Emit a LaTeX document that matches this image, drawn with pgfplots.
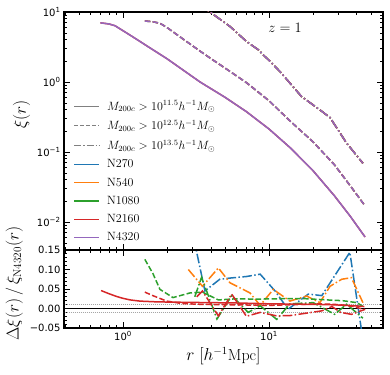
\documentclass[border=0pt]{standalone}
\usepackage{fontspec}
\usepackage{pgfplots}
\usepackage{pgfplotstable}
\pgfplotsset{compat=1.18}
\newfontfamily\tickfont{DejaVu Sans}
\definecolor{c0}{HTML}{1F77B4}
\definecolor{c1}{HTML}{FF7F0E}
\definecolor{c2}{HTML}{2CA02C}
\definecolor{c3}{HTML}{D62728}
\definecolor{c4}{HTML}{9467BD}
\definecolor{mgray}{HTML}{808080}

\pgfplotstableread{
r xi
0.70 7.00
0.80 6.75
0.88 6.37
1.00 5.40
1.20 4.25
1.50 3.15
2.00 2.15
2.50 1.55
3.37 1.00
5.00 0.604
7.00 0.377
10.0 0.213
14.0 0.1146
20.0 0.0542
28.0 0.0238
36.0 0.0121
45.5 0.0061
}\solid
\pgfplotstableread{
r xi
1.41 7.44
1.60 7.25
1.79 6.90
2.00 6.00
2.50 4.30
3.37 2.76
4.13 2.06
5.00 1.58
7.00 0.98
10.0 0.54
14.0 0.275
20.0 0.14
28.0 0.066
36.0 0.033
45.5 0.017
}\dashed
\pgfplotstableread{
r xi
2.80 17.0
3.40 12.7
3.94 10.0
5.41 6.2
7.00 3.8
8.50 2.86
9.10 2.45
10.1 2.0
12.0 1.38
16.7 0.62
22.3 0.40
26.2 0.31
34.0 0.134
44.0 0.069
}\dashdot

\tikzset{
  sol/.style={line width=1.5pt},
  dsh/.style={line width=1.5pt, dash pattern=on 5.5pt off 2.4pt},
  ddt/.style={line width=1.5pt, dash pattern=on 9.6pt off 2.4pt on 1.5pt off 2.4pt},
}

\begin{document}
\begin{tikzpicture}
\useasboundingbox (-64pt,-46pt) rectangle (326pt,328pt);

\begin{axis}[name=bot, at={(0pt,0pt)}, anchor=south west,
  scale only axis, width=319pt, height=78pt,
  xmode=log, xmin=0.394, xmax=60.4,
  tick align=inside, xtick pos=both, ytick pos=both,
  major tick length=6pt, minor tick length=3pt,
  every tick/.style={black, line width=0.8pt},
  axis line style={line width=1.2pt},
  tick label style={font=\tickfont\fontsize{10}{12}\selectfont},
  label style={font=\fontsize{16}{19}\selectfont},
  xtick={1,10},
  minor xtick={0.4,0.5,0.6,0.7,0.8,0.9,2,3,4,5,6,7,8,9,20,30,40,50,60},
  ymin=-0.05, ymax=0.15,
  ytick={-0.05,0,0.05,0.1,0.15},
  yticklabels={−0.05,0.00,0.05,0.10,0.15},
  minor y tick num=4,
  xticklabels={10\textsuperscript{0},10\textsuperscript{1}},
  xlabel={$r\ [h^{-1}\mathrm{Mpc}]$},
  ylabel={$\Delta\xi(r)\,/\,\xi_{\mathrm{N4320}}(r)$},
  ylabel style={at={(ticklabel cs:0.57)}},
]
\addplot[black, line width=1.6pt] coordinates {(0.3,0) (80,0)};
\addplot[gray!70, line width=1.3pt, dash pattern=on 1pt off 1pt] coordinates {(0.3,0.01) (80,0.01)};
\addplot[gray!70, line width=1.3pt, dash pattern=on 1pt off 1pt] coordinates {(0.3,-0.01) (80,-0.01)};
\addplot[c0, ddt] coordinates {(3.05,0.18) (3.64,0.045) (4.6,0.075) (5.4,0.078) (7.0,0.082) (8.7,0.088) (11.0,0.045) (13.5,-0.002) (18.6,0.037) (23.0,0.033) (35.8,0.144) (43.0,-0.055)};
\addplot[c1, ddt] coordinates {(2.8,0.10) (3.5,0.057) (4.5,0.104) (5.4,0.066) (7.4,0.04) (8.7,0.008) (10.7,0.049) (13.9,0.019) (18.1,0.032) (22.3,0.015) (26.2,0.057) (31.5,0.075) (36.7,0.079) (44.0,0.015)};
\addplot[c2, dsh] coordinates {(1.41,0.126) (1.6,0.09) (1.79,0.049) (2.2,0.028) (2.88,0.04) (3.5,0.042) (4.5,0.022) (6.0,0.025) (8.0,0.024) (12.0,0.025) (18.0,0.025) (25.0,0.022) (32.0,0.02) (40.0,0.015) (45.0,0.003)};
\addplot[c2, ddt] coordinates {(3.1,0.03) (3.45,0.08) (4.4,-0.027) (5.55,0.033) (7.2,-0.01) (8.7,0.007) (11.3,-0.028) (13.9,0.012) (20.1,0.015) (28.2,-0.015) (34.0,0.011) (44.0,-0.025)};
\addplot[c3, sol] coordinates {(0.707,0.046) (0.8,0.038) (0.9,0.031) (1.0,0.026) (1.12,0.022) (1.3,0.019) (1.7,0.017) (2.5,0.016) (4.0,0.015) (6.3,0.014) (10.0,0.012) (16.0,0.011) (25.0,0.010) (35.0,0.008) (45.0,0.005)};
\addplot[c3, dsh] coordinates {(1.41,0.042) (1.6,0.033) (1.99,0.019) (2.5,0.013) (3.2,0.011) (4.5,0.01) (7.0,0.009) (10.0,0.008) (15.0,0.01) (22.0,0.012) (30.0,0.01) (38.0,0.005) (45.0,-0.003)};
\addplot[c3, ddt] coordinates {(3.2,0.03) (3.5,0.045) (4.5,-0.019) (5.55,0.037) (7.0,-0.02) (8.7,-0.01) (11.3,-0.019) (14.0,-0.018) (18.0,-0.012) (23.0,-0.006) (27.0,0.005) (31.0,-0.01) (36.7,-0.015) (45.6,-0.002)};
\end{axis}

\begin{axis}[name=top, at={(0pt,78pt)}, anchor=south west,
  scale only axis, width=319pt, height=238pt,
  xmode=log, xmin=0.394, xmax=60.4,
  ymode=log, ymin=0.00398, ymax=10,
  tick align=inside, xtick pos=both, ytick pos=both,
  major tick length=6pt, minor tick length=3pt,
  every tick/.style={black, line width=0.8pt},
  axis line style={line width=1.2pt},
  tick label style={font=\tickfont\fontsize{10}{12}\selectfont},
  label style={font=\fontsize{16}{19}\selectfont},
  xtick={1,10},
  minor xtick={0.4,0.5,0.6,0.7,0.8,0.9,2,3,4,5,6,7,8,9,20,30,40,50,60},
  xticklabels={},
  ytick={0.01,0.1,1,10},
  yticklabels={10\textsuperscript{−2},10\textsuperscript{−1},10\textsuperscript{0},10\textsuperscript{1}},
  minor ytick={0.004,0.005,0.006,0.007,0.008,0.009,0.02,0.03,0.04,0.05,0.06,0.07,0.08,0.09,0.2,0.3,0.4,0.5,0.6,0.7,0.8,0.9,2,3,4,5,6,7,8,9},
  ylabel={$\xi(r)$},
  ylabel style={at={(ticklabel cs:0.57)}},
  legend cell align=left,
  legend style={draw=none, fill=none, at={(0.02,0.645)}, anchor=north west,
    font=\fontsize{12}{14}\selectfont, row sep=4.6pt},
  legend image code/.code={\draw[#1] (0pt,0pt) -- (25pt,0pt); \path (30pt,0pt);},
]
\addplot[c0, ddt, forget plot] table[x=r,y=xi] {\dashdot};
\addplot[c1, ddt, forget plot] table[x=r,y=xi] {\dashdot};
\addplot[c2, dsh, forget plot] table[x=r,y=xi] {\dashed};
\addplot[c2, ddt, forget plot] table[x=r,y=xi] {\dashdot};
\addplot[c3, sol, forget plot] table[x=r,y=xi] {\solid};
\addplot[c3, dsh, forget plot] table[x=r,y=xi] {\dashed};
\addplot[c3, ddt, forget plot] table[x=r,y=xi] {\dashdot};
\addplot[c4, sol, forget plot] table[x=r,y=xi] {\solid};
\addplot[c4, dsh, forget plot] table[x=r,y=xi] {\dashed};
\addplot[c4, ddt, forget plot] table[x=r,y=xi] {\dashdot};
\addlegendimage{mgray, line width=1pt}
\addlegendentry{$M_{200c}>10^{11.5}h^{-1}M_\odot$}
\addlegendimage{mgray, line width=1pt, dash pattern=on 4pt off 2pt}
\addlegendentry{$M_{200c}>10^{12.5}h^{-1}M_\odot$}
\addlegendimage{mgray, line width=1pt, dash pattern=on 7pt off 2pt on 1.2pt off 2pt}
\addlegendentry{$M_{200c}>10^{13.5}h^{-1}M_\odot$}
\addlegendimage{c0, line width=1.5pt}
\addlegendentry{N270}
\addlegendimage{c1, line width=1.5pt}
\addlegendentry{N540}
\addlegendimage{c2, line width=1.5pt}
\addlegendentry{N1080}
\addlegendimage{c3, line width=1.5pt}
\addlegendentry{N2160}
\addlegendimage{c4, line width=1.5pt}
\addlegendentry{N4320}
\node[font=\fontsize{14}{17}\selectfont] at (rel axis cs:0.693,0.933) {$z=1$};
\end{axis}
\end{tikzpicture}
\end{document}
